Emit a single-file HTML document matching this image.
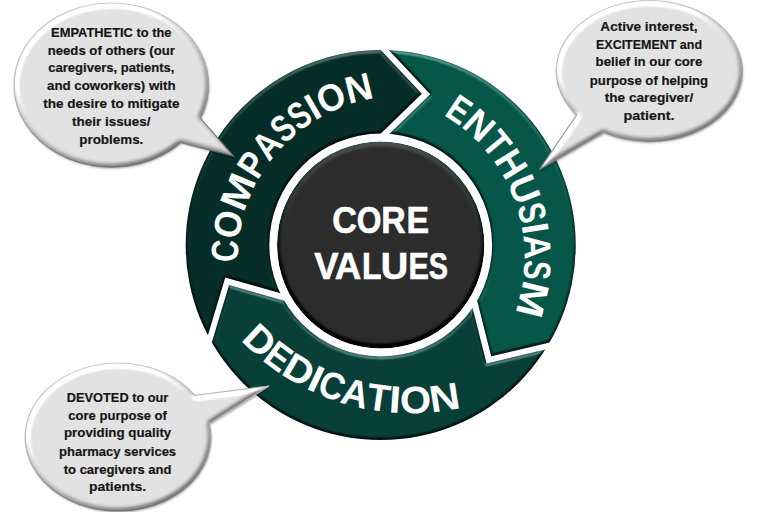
<!DOCTYPE html>
<html><head><meta charset="utf-8"><style>
html,body{margin:0;padding:0;background:#fff;}
svg{display:block;}
.bt{font-family:"Liberation Sans",sans-serif;font-weight:bold;font-size:13.6px;fill:#161616;stroke:#161616;stroke-width:0.2px;}
.rt{font-family:"Liberation Sans",sans-serif;font-weight:bold;font-size:38px;fill:#fff;}
.ct{font-family:"Liberation Sans",sans-serif;font-weight:bold;font-size:37px;fill:#fff;stroke:#fff;stroke-width:0.6px;}
</style></head><body>
<svg width="768" height="512" viewBox="0 0 768 512">
<defs>
<filter id="blur1" x="-10%" y="-10%" width="120%" height="120%"><feGaussianBlur stdDeviation="1"/></filter>
<filter id="blur08" x="-10%" y="-10%" width="120%" height="120%"><feGaussianBlur stdDeviation="0.8"/></filter>
<filter id="segbev" x="-5%" y="-5%" width="110%" height="110%" color-interpolation-filters="sRGB">
 <feGaussianBlur in="SourceAlpha" stdDeviation="1.6" result="b"/>
 <feDiffuseLighting in="b" surfaceScale="3.5" diffuseConstant="1" lighting-color="#fff" result="d">
  <feDistantLight azimuth="-90" elevation="45"/>
 </feDiffuseLighting>
 <feComponentTransfer in="d" result="L"><feFuncR type="linear" slope="0.9" intercept="-0.636"/><feFuncG type="linear" slope="0.9" intercept="-0.636"/><feFuncB type="linear" slope="0.9" intercept="-0.636"/></feComponentTransfer>
 <feComponentTransfer in="d" result="M"><feFuncR type="linear" slope="0.9" intercept="0.364"/><feFuncG type="linear" slope="0.9" intercept="0.364"/><feFuncB type="linear" slope="0.9" intercept="0.364"/></feComponentTransfer>
 <feComposite in="SourceGraphic" in2="L" operator="arithmetic" k1="0" k2="1" k3="1" k4="0" result="l1"/>
 <feComposite in="l1" in2="M" operator="arithmetic" k1="1" k2="0" k3="0" k4="0" result="l2"/>
 <feComposite in="l2" in2="SourceAlpha" operator="in" result="lit2"/>
 <feMorphology in="SourceAlpha" operator="erode" radius="0.8" result="e1"/>
 <feComposite in="SourceAlpha" in2="e1" operator="out" result="edge"/>
 <feFlood flood-color="#000" flood-opacity="0.12"/><feComposite in2="edge" operator="in" result="darkedge"/>
 <feMerge><feMergeNode in="lit2"/><feMergeNode in="darkedge"/></feMerge>
</filter>
<linearGradient id="bevel" x1="0.35" y1="0" x2="0.65" y2="1"><stop offset="0" stop-color="#fff"/><stop offset="0.42" stop-color="#fafafa"/><stop offset="0.62" stop-color="#cdcdcd"/><stop offset="1" stop-color="#8a8a8a"/></linearGradient>
<linearGradient id="bstroke" x1="0.35" y1="0" x2="0.65" y2="1"><stop offset="0" stop-color="#d0d0d0"/><stop offset="0.5" stop-color="#b0b0b0"/><stop offset="1" stop-color="#6a6a6a"/></linearGradient>
<linearGradient id="discbev" x1="0" y1="0" x2="0" y2="1"><stop offset="0" stop-color="#5a5a5a"/><stop offset="0.5" stop-color="#2c2c2c"/><stop offset="1" stop-color="#1a1a1a"/></linearGradient>
<filter id="discbevf" x="-5%" y="-5%" width="110%" height="110%" color-interpolation-filters="sRGB">
 <feGaussianBlur in="SourceAlpha" stdDeviation="2.6" result="b"/>
 <feDiffuseLighting in="b" surfaceScale="4" diffuseConstant="1" lighting-color="#fff" result="d">
  <feDistantLight azimuth="-90" elevation="45"/>
 </feDiffuseLighting>
 <feComposite in="SourceGraphic" in2="d" operator="arithmetic" k1="0" k2="1" k3="0.45" k4="-0.318" result="lit"/>
 <feComposite in="lit" in2="SourceAlpha" operator="in"/>
</filter>
<filter id="bubbev" x="-5%" y="-5%" width="110%" height="110%" color-interpolation-filters="sRGB">
 <feGaussianBlur in="SourceAlpha" stdDeviation="2.4" result="b"/>
 <feDiffuseLighting in="b" surfaceScale="3.5" diffuseConstant="1" lighting-color="#fff" result="d">
  <feDistantLight azimuth="235" elevation="45"/>
 </feDiffuseLighting>
 <feComponentTransfer in="d" result="L"><feFuncR type="linear" slope="1.4" intercept="-0.99"/><feFuncG type="linear" slope="1.4" intercept="-0.99"/><feFuncB type="linear" slope="1.4" intercept="-0.99"/></feComponentTransfer>
 <feComponentTransfer in="d" result="M"><feFuncR type="linear" slope="0.65" intercept="0.54"/><feFuncG type="linear" slope="0.65" intercept="0.54"/><feFuncB type="linear" slope="0.65" intercept="0.54"/></feComponentTransfer>
 <feComposite in="SourceGraphic" in2="L" operator="arithmetic" k1="0" k2="1" k3="1" k4="0" result="l1"/>
 <feComposite in="l1" in2="M" operator="arithmetic" k1="1" k2="0" k3="0" k4="0" result="l2"/>
 <feComposite in="l2" in2="SourceAlpha" operator="in"/>
</filter>
<clipPath id="discclip"><circle cx="380.7" cy="245.0" r="102.4"/></clipPath>
</defs>
<clipPath id="ring"><path clip-rule="evenodd" d="M185.70,245.00 a195.0,195.0 0 1,0 390.0,0 a195.0,195.0 0 1,0 -390.0,0 Z M269.30,245.00 a111.4,111.4 0 1,0 222.8,0 a111.4,111.4 0 1,0 -222.8,0 Z"/></clipPath>
<g filter="url(#segbev)"><path clip-path="url(#ring)" d="M309.23,301.32 L225.24,277.48 L199.33,363.66 L167.72,344.32 L159.87,325.37 L153.71,305.82 L149.27,285.81 L146.59,265.48 L145.70,245.00 L146.59,224.52 L149.27,204.19 L153.71,184.18 L159.87,164.63 L167.72,145.68 L177.18,127.50 L188.20,110.21 L200.68,93.94 L214.53,78.83 L229.64,64.98 L245.91,52.50 L263.20,41.48 L281.38,32.02 L300.33,24.17 L319.88,18.01 L339.89,13.57 L360.22,10.89 L360.14,28.15 L421.81,93.69 L359.18,154.50 L374.48,173.87 L368.30,174.68 L362.22,176.03 L356.28,177.91 L350.53,180.29 L345.00,183.17 L339.75,186.51 L334.80,190.30 L330.21,194.51 L326.00,199.10 L322.21,204.05 L318.87,209.30 L315.99,214.83 L313.61,220.58 L311.73,226.52 L310.38,232.60 L309.57,238.78 L309.30,245.00 L309.57,251.22 L310.38,257.40 L311.73,263.48 L313.61,269.42 L315.99,275.17 Z" fill="#062d27"/></g>
<g filter="url(#segbev)"><path clip-path="url(#ring)" d="M367.66,154.94 L430.30,94.13 L368.63,28.60 L401.18,10.89 L421.51,13.57 L441.52,18.01 L461.07,24.17 L480.02,32.02 L498.20,41.48 L515.49,52.50 L531.76,64.98 L546.87,78.83 L560.72,93.94 L573.20,110.21 L584.22,127.50 L593.68,145.68 L601.53,164.63 L607.69,184.18 L612.13,204.19 L614.81,224.52 L615.70,245.00 L614.81,265.48 L612.13,285.81 L607.69,305.82 L601.53,325.37 L593.68,344.32 L578.77,335.62 L491.19,356.26 L469.84,271.61 L445.41,275.17 L447.79,269.42 L449.67,263.48 L451.02,257.40 L451.83,251.22 L452.10,245.00 L451.83,238.78 L451.02,232.60 L449.67,226.52 L447.79,220.58 L445.41,214.83 L442.53,209.30 L439.19,204.05 L435.40,199.10 L431.19,194.51 L426.60,190.30 L421.65,186.51 L416.40,183.17 L410.87,180.29 L405.12,177.91 L399.18,176.03 L393.10,174.68 L386.92,173.87 Z" fill="#07564a"/></g>
<g filter="url(#segbev)"><path clip-path="url(#ring)" d="M465.21,278.74 L486.56,363.39 L574.15,342.75 L573.20,379.79 L560.72,396.06 L546.87,411.17 L531.76,425.02 L515.49,437.50 L498.20,448.52 L480.02,457.98 L461.07,465.83 L441.52,471.99 L421.51,476.43 L401.18,479.11 L380.70,480.00 L360.22,479.11 L339.89,476.43 L319.88,471.99 L300.33,465.83 L281.38,457.98 L263.20,448.52 L245.91,437.50 L229.64,425.02 L214.53,411.17 L200.68,396.06 L188.20,379.79 L203.18,371.23 L229.10,285.05 L313.08,308.89 L322.21,285.95 L326.00,290.90 L330.21,295.49 L334.80,299.70 L339.75,303.49 L345.00,306.83 L350.53,309.71 L356.28,312.09 L362.22,313.97 L368.30,315.32 L374.48,316.13 L380.70,316.40 L386.92,316.13 L393.10,315.32 L399.18,313.97 L405.12,312.09 L410.87,309.71 L416.40,306.83 L421.65,303.49 L426.60,299.70 L431.19,295.49 L435.40,290.90 L439.19,285.95 Z" fill="#083f39"/></g>
<g filter="url(#discbevf)"><circle cx="380.7" cy="245.0" r="103.6" fill="#06352c"/>
<circle cx="380.7" cy="245.0" r="102.3" fill="#2c2c2c"/></g>
<text x="344.58" y="232.8" text-anchor="middle" textLength="24.70" lengthAdjust="spacingAndGlyphs" class="ct">C</text>
<text x="369.10" y="232.8" text-anchor="middle" textLength="24.74" lengthAdjust="spacingAndGlyphs" class="ct">O</text>
<text x="393.43" y="232.8" text-anchor="middle" textLength="24.45" lengthAdjust="spacingAndGlyphs" class="ct">R</text>
<text x="417.88" y="232.8" text-anchor="middle" textLength="22.55" lengthAdjust="spacingAndGlyphs" class="ct">E</text>
<text x="326.50" y="278.7" text-anchor="middle" textLength="24.32" lengthAdjust="spacingAndGlyphs" class="ct">V</text>
<text x="348.04" y="278.7" text-anchor="middle" textLength="26.52" lengthAdjust="spacingAndGlyphs" class="ct">A</text>
<text x="371.66" y="278.7" text-anchor="middle" textLength="19.45" lengthAdjust="spacingAndGlyphs" class="ct">L</text>
<text x="394.54" y="278.7" text-anchor="middle" textLength="27.44" lengthAdjust="spacingAndGlyphs" class="ct">U</text>
<text x="418.62" y="278.7" text-anchor="middle" textLength="20.42" lengthAdjust="spacingAndGlyphs" class="ct">E</text>
<text x="438.35" y="278.7" text-anchor="middle" textLength="19.23" lengthAdjust="spacingAndGlyphs" class="ct">S</text>
<path id="tp1" d="M525.50,363.15 A162.7,162.7 0 1,1 275.50,154.85 A162.7,162.7 0 1,1 525.50,363.15" fill="none"/>
<text class="rt"><textPath href="#tp1" startOffset="405.46" text-anchor="middle" textLength="22.14" lengthAdjust="spacingAndGlyphs">C</textPath></text>
<text class="rt"><textPath href="#tp1" startOffset="430.27" text-anchor="middle" textLength="27.49" lengthAdjust="spacingAndGlyphs">O</textPath></text>
<text class="rt"><textPath href="#tp1" startOffset="461.76" text-anchor="middle" textLength="35.50" lengthAdjust="spacingAndGlyphs">M</textPath></text>
<text class="rt"><textPath href="#tp1" startOffset="490.24" text-anchor="middle" textLength="21.45" lengthAdjust="spacingAndGlyphs">P</textPath></text>
<text class="rt"><textPath href="#tp1" startOffset="512.97" text-anchor="middle" textLength="24.02" lengthAdjust="spacingAndGlyphs">A</textPath></text>
<text class="rt"><textPath href="#tp1" startOffset="534.52" text-anchor="middle" textLength="19.08" lengthAdjust="spacingAndGlyphs">S</textPath></text>
<text class="rt"><textPath href="#tp1" startOffset="553.60" text-anchor="middle" textLength="19.08" lengthAdjust="spacingAndGlyphs">S</textPath></text>
<text class="rt"><textPath href="#tp1" startOffset="568.37" text-anchor="middle" textLength="10.46" lengthAdjust="spacingAndGlyphs">I</textPath></text>
<text class="rt"><textPath href="#tp1" startOffset="587.34" text-anchor="middle" textLength="27.49" lengthAdjust="spacingAndGlyphs">O</textPath></text>
<text class="rt"><textPath href="#tp1" startOffset="614.49" text-anchor="middle" textLength="26.80" lengthAdjust="spacingAndGlyphs">N</textPath></text>
<path id="tp2" d="M204.35,313.36 A165.0,165.0 0 1,1 514.65,201.04 A165.0,165.0 0 1,1 204.35,313.36" fill="none"/>
<text class="rt"><textPath href="#tp2" startOffset="414.27" text-anchor="middle" textLength="20.32" lengthAdjust="spacingAndGlyphs">E</textPath></text>
<text class="rt"><textPath href="#tp2" startOffset="437.87" text-anchor="middle" textLength="26.87" lengthAdjust="spacingAndGlyphs">N</textPath></text>
<text class="rt"><textPath href="#tp2" startOffset="461.44" text-anchor="middle" textLength="20.28" lengthAdjust="spacingAndGlyphs">T</textPath></text>
<text class="rt"><textPath href="#tp2" startOffset="484.55" text-anchor="middle" textLength="25.93" lengthAdjust="spacingAndGlyphs">H</textPath></text>
<text class="rt"><textPath href="#tp2" startOffset="510.86" text-anchor="middle" textLength="26.70" lengthAdjust="spacingAndGlyphs">U</textPath></text>
<text class="rt"><textPath href="#tp2" startOffset="533.78" text-anchor="middle" textLength="19.12" lengthAdjust="spacingAndGlyphs">S</textPath></text>
<text class="rt"><textPath href="#tp2" startOffset="548.58" text-anchor="middle" textLength="10.49" lengthAdjust="spacingAndGlyphs">I</textPath></text>
<text class="rt"><textPath href="#tp2" startOffset="565.87" text-anchor="middle" textLength="24.08" lengthAdjust="spacingAndGlyphs">A</textPath></text>
<text class="rt"><textPath href="#tp2" startOffset="587.47" text-anchor="middle" textLength="19.12" lengthAdjust="spacingAndGlyphs">S</textPath></text>
<text class="rt"><textPath href="#tp2" startOffset="614.82" text-anchor="middle" textLength="35.58" lengthAdjust="spacingAndGlyphs">M</textPath></text>
<path id="tp3" d="M478.41,-43.31 A233.3,233.3 0 1,0 341.99,402.91 A233.3,233.3 0 1,0 478.41,-43.31" fill="none"/>
<text class="rt"><textPath href="#tp3" startOffset="626.67" text-anchor="middle" textLength="28.97" lengthAdjust="spacingAndGlyphs">D</textPath></text>
<text class="rt"><textPath href="#tp3" startOffset="652.64" text-anchor="middle" textLength="22.99" lengthAdjust="spacingAndGlyphs">E</textPath></text>
<text class="rt"><textPath href="#tp3" startOffset="678.62" text-anchor="middle" textLength="28.97" lengthAdjust="spacingAndGlyphs">D</textPath></text>
<text class="rt"><textPath href="#tp3" startOffset="699.04" text-anchor="middle" textLength="11.86" lengthAdjust="spacingAndGlyphs">I</textPath></text>
<text class="rt"><textPath href="#tp3" startOffset="717.52" text-anchor="middle" textLength="25.10" lengthAdjust="spacingAndGlyphs">C</textPath></text>
<text class="rt"><textPath href="#tp3" startOffset="743.69" text-anchor="middle" textLength="27.24" lengthAdjust="spacingAndGlyphs">A</textPath></text>
<text class="rt"><textPath href="#tp3" startOffset="768.78" text-anchor="middle" textLength="22.94" lengthAdjust="spacingAndGlyphs">T</textPath></text>
<text class="rt"><textPath href="#tp3" startOffset="786.19" text-anchor="middle" textLength="11.86" lengthAdjust="spacingAndGlyphs">I</textPath></text>
<text class="rt"><textPath href="#tp3" startOffset="807.71" text-anchor="middle" textLength="31.17" lengthAdjust="spacingAndGlyphs">O</textPath></text>
<text class="rt"><textPath href="#tp3" startOffset="838.49" text-anchor="middle" textLength="30.39" lengthAdjust="spacingAndGlyphs">N</textPath></text>
<clipPath id="bc0"><path d="M233.60,156.10 L200.30,118.14 A97.3,82.0 0 1,0 180.69,142.48 Z"/></clipPath>
<path d="M233.60,156.10 L200.30,118.14 A97.3,82.0 0 1,0 180.69,142.48 Z" fill="#000" opacity="0.35" transform="translate(0.8,1.6)" filter="url(#blur1)"/>
<g filter="url(#bubbev)"><path d="M233.60,156.10 L200.30,118.14 A97.3,82.0 0 1,0 180.69,142.48 Z" fill="#e3e3e3"/></g>
<path d="M233.60,156.10 L200.30,118.14 A97.3,82.0 0 1,0 180.69,142.48 Z" fill="none" stroke="url(#bstroke)" stroke-width="1.2"/>
<text x="111.3" y="36.6" text-anchor="middle" textLength="120.4" lengthAdjust="spacingAndGlyphs" class="bt">EMPATHETIC to the</text>
<text x="111.3" y="54.8" text-anchor="middle" textLength="127.2" lengthAdjust="spacingAndGlyphs" class="bt">needs of others (our</text>
<text x="111.3" y="72.3" text-anchor="middle" textLength="126.2" lengthAdjust="spacingAndGlyphs" class="bt">caregivers, patients,</text>
<text x="111.3" y="90.3" text-anchor="middle" textLength="128.6" lengthAdjust="spacingAndGlyphs" class="bt">and coworkers) with</text>
<text x="111.3" y="108.0" text-anchor="middle" textLength="136.3" lengthAdjust="spacingAndGlyphs" class="bt">the desire to mitigate</text>
<text x="111.3" y="126.1" text-anchor="middle" textLength="78.4" lengthAdjust="spacingAndGlyphs" class="bt">their issues/</text>
<text x="111.3" y="143.7" text-anchor="middle" textLength="64.1" lengthAdjust="spacingAndGlyphs" class="bt">problems.</text>
<clipPath id="bc1"><path d="M539.40,169.50 L603.78,132.29 A93.0,70.4 0 1,0 576.71,114.91 Z"/></clipPath>
<path d="M539.40,169.50 L603.78,132.29 A93.0,70.4 0 1,0 576.71,114.91 Z" fill="#000" opacity="0.35" transform="translate(0.8,1.6)" filter="url(#blur1)"/>
<g filter="url(#bubbev)"><path d="M539.40,169.50 L603.78,132.29 A93.0,70.4 0 1,0 576.71,114.91 Z" fill="#e3e3e3"/></g>
<path d="M539.40,169.50 L603.78,132.29 A93.0,70.4 0 1,0 576.71,114.91 Z" fill="none" stroke="url(#bstroke)" stroke-width="1.2"/>
<text x="649.0" y="30.6" text-anchor="middle" textLength="97.3" lengthAdjust="spacingAndGlyphs" class="bt">Active interest,</text>
<text x="649.0" y="48.8" text-anchor="middle" textLength="106.0" lengthAdjust="spacingAndGlyphs" class="bt">EXCITEMENT and</text>
<text x="649.0" y="66.1" text-anchor="middle" textLength="106.8" lengthAdjust="spacingAndGlyphs" class="bt">belief in our core</text>
<text x="649.0" y="85.2" text-anchor="middle" textLength="118.3" lengthAdjust="spacingAndGlyphs" class="bt">purpose of helping</text>
<text x="649.0" y="102.3" text-anchor="middle" textLength="88.6" lengthAdjust="spacingAndGlyphs" class="bt">the caregiver/</text>
<text x="649.0" y="119.8" text-anchor="middle" textLength="50.9" lengthAdjust="spacingAndGlyphs" class="bt">patient.</text>
<clipPath id="bc2"><path d="M269.10,386.00 L194.77,395.42 A92.8,74.0 0 1,0 209.24,423.50 Z"/></clipPath>
<path d="M269.10,386.00 L194.77,395.42 A92.8,74.0 0 1,0 209.24,423.50 Z" fill="#000" opacity="0.35" transform="translate(0.8,1.6)" filter="url(#blur1)"/>
<g filter="url(#bubbev)"><path d="M269.10,386.00 L194.77,395.42 A92.8,74.0 0 1,0 209.24,423.50 Z" fill="#e3e3e3"/></g>
<path d="M269.10,386.00 L194.77,395.42 A92.8,74.0 0 1,0 209.24,423.50 Z" fill="none" stroke="url(#bstroke)" stroke-width="1.2"/>
<text x="117.6" y="402.2" text-anchor="middle" textLength="101.5" lengthAdjust="spacingAndGlyphs" class="bt">DEVOTED to our</text>
<text x="117.6" y="419.7" text-anchor="middle" textLength="98.6" lengthAdjust="spacingAndGlyphs" class="bt">core purpose of</text>
<text x="117.6" y="437.4" text-anchor="middle" textLength="107.3" lengthAdjust="spacingAndGlyphs" class="bt">providing quality</text>
<text x="117.6" y="456.3" text-anchor="middle" textLength="117.0" lengthAdjust="spacingAndGlyphs" class="bt">pharmacy services</text>
<text x="117.6" y="473.8" text-anchor="middle" textLength="107.7" lengthAdjust="spacingAndGlyphs" class="bt">to caregivers and</text>
<text x="117.6" y="490.6" text-anchor="middle" textLength="57.1" lengthAdjust="spacingAndGlyphs" class="bt">patients.</text>
</svg>
</body></html>
